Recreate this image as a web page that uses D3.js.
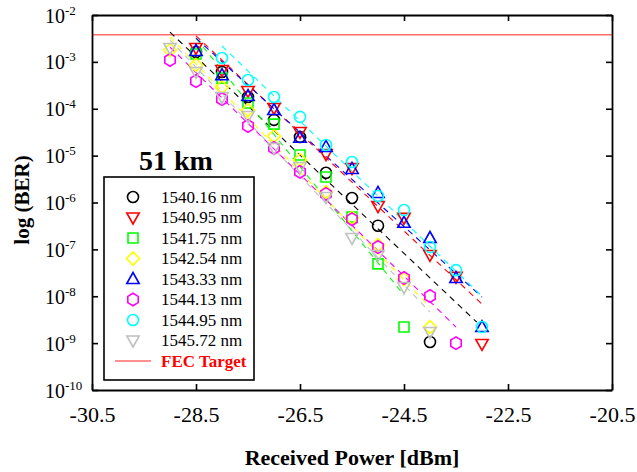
<!DOCTYPE html>
<html>
<head>
<meta charset="utf-8">
<script src="https://cdn.jsdelivr.net/npm/d3@7"></script>
<style>
  body { margin: 0; background: #fff; }
  text { font-family: "Liberation Serif", "Times New Roman", serif; }
</style>
</head>
<body>
<svg id="chart" width="637" height="472"></svg>
<script>
// received power columns (dBm)
const powers = [-29.0, -28.5, -28.0, -27.5, -27.0, -26.5, -26.0, -25.5, -25.0, -24.5, -24.0, -23.5, -23.0];

// BER, null = no point
const ber1540_16 = [null, 1.62e-3, 6.1e-4, 1.78e-4, 5.8e-5, 2.5e-5, 4.3e-6, 1.25e-6, 3.2e-7, null, 1.06e-9, null, null];
const ber1540_95 = [null, 1.98e-3, 6.7e-4, 2.4e-4, 1.04e-4, 3.2e-5, 1.08e-5, 5.4e-6, 8.4e-7, 4.7e-7, 7.6e-8, 2.6e-8, 9.6e-10];
const ber1541_75 = [null, 1.47e-3, 4.5e-4, 1.33e-4, 4.7e-5, 1.03e-5, 3.5e-6, 4.9e-7, 4.9e-8, 2.2e-9, null, null, null];
const ber1542_54 = [1.79e-3, 8.6e-4, 2.9e-4, 9.4e-5, 2.6e-5, 8.1e-6, 1.67e-6, 4.7e-7, 1.24e-7, 2.33e-8, 2.2e-9, null, null];
const ber1543_33 = [null, 1.71e-3, 5.2e-4, 1.87e-4, 9.4e-5, 2.4e-5, 1.53e-5, 5.2e-6, 1.6e-6, 3.7e-7, 1.75e-7, 2.45e-8, 2.2e-9];
const ber1544_13 = [1.10e-3, 3.9e-4, 1.61e-4, 4.3e-5, 1.46e-5, 4.5e-6, 1.52e-6, 4.4e-7, 1.12e-7, 2.45e-8, 1.01e-8, 1.0e-9, null];
const ber1544_95 = [null, null, 1.21e-3, 4.1e-4, 1.78e-4, 6.7e-5, 1.69e-5, 7.3e-6, 1.38e-6, 6.9e-7, 1.12e-7, 3.6e-8, 2.2e-9];
const ber1545_72 = [1.98e-3, 6.1e-4, 1.78e-4, 7.0e-5, 1.46e-5, 5.7e-6, 1.31e-6, 1.75e-7, 7.6e-8, 1.57e-8, 1.73e-9, null, null];

// dashed fit lines: [power, ber] at each end
const fit1540_16 = [[-29.0, 4.3e-3], [-23.1, 2.8e-9]];
const fit1540_95 = [[-28.5, 3.6e-3], [-23.0, 6.8e-9]];
const fit1541_75 = [[-28.5, 3.2e-3], [-24.5, 1.06e-8]];
const fit1542_54 = [[-29.0, 3.4e-3], [-24.0, 5.9e-9]];
const fit1543_33 = [[-28.5, 3.2e-3], [-23.0, 9.6e-9]];
const fit1544_13 = [[-29.0, 2.07e-3], [-23.5, 2.2e-9]];
const fit1544_95 = [[-28.0, 2.18e-3], [-23.0, 1.0e-8]];
const fit1545_72 = [[-29.0, 2.93e-3], [-24.0, 4.6e-9]];

const seriesNames = ["1540.16 nm", "1540.95 nm", "1541.75 nm", "1542.54 nm", "1543.33 nm", "1544.13 nm", "1544.95 nm", "1545.72 nm"];
const fecTarget = 3.8e-3;

const xTicks = [-30.5, -28.5, -26.5, -24.5, -22.5, -20.5];
const yTicks = [1e-2, 1e-3, 1e-4, 1e-5, 1e-6, 1e-7, 1e-8, 1e-9, 1e-10];

// styles
const colors = ["#000000", "#ff0000", "#00ff00", "#ffff00", "#0000ff", "#ff00ff", "#00ffff", "#c0c0c0"];
const shapes = ["circle", "tridown", "square", "diamond", "triup", "hexagon", "circle", "tridown"];

const allBer = [ber1540_16, ber1540_95, ber1541_75, ber1542_54, ber1543_33, ber1544_13, ber1544_95, ber1545_72];
const allFit = [fit1540_16, fit1540_95, fit1541_75, fit1542_54, fit1543_33, fit1544_13, fit1544_95, fit1545_72];

const svg = d3.select("#chart");
const margin = { top: 15, right: 25, bottom: 82, left: 92 };
const width = 637, height = 472;

const x = d3.scaleLinear().domain([-30.5, -20.5]).range([margin.left, width - margin.right]);
const y = d3.scaleLog().domain([1e-10, 1e-2]).range([height - margin.bottom, margin.top]);

function markerPath(shape) {
	if (shape === "circle") return "M5.5,0A5.5,5.5 0 1,1 -5.5,0A5.5,5.5 0 1,1 5.5,0Z";
	if (shape === "square") return "M-5,-5L5,-5L5,5L-5,5Z";
	if (shape === "diamond") return "M0,-6.5L6.5,0L0,6.5L-6.5,0Z";
	if (shape === "triup") return "M0,-6.5L6.2,4.5L-6.2,4.5Z";
	if (shape === "tridown") return "M0,6.5L6.2,-4.5L-6.2,-4.5Z";
	if (shape === "hexagon") {
		let pts = d3.range(6).map(function (i) {
			let a = Math.PI / 3 * i - Math.PI / 2;
			return [6 * Math.cos(a), 6.3 * Math.sin(a)];
		});
		return "M" + pts.join("L") + "Z";
	}
}

// fec line
svg.append("line")
	.attr("x1", x(-30.5)).attr("x2", x(-20.5))
	.attr("y1", y(fecTarget)).attr("y2", y(fecTarget))
	.style("stroke", "#ff6b6b")
	.style("stroke-width", 1.6);

// fit lines
let fits = svg.append("g").attr("id", "fits");
allFit.forEach(function (f, i) {
	fits.append("line")
		.attr("x1", x(f[0][0])).attr("y1", y(f[0][1]))
		.attr("x2", x(f[1][0])).attr("y2", y(f[1][1]))
		.style("stroke", colors[i])
		.style("stroke-width", 1.1)
		.style("stroke-dasharray", "6,5");
});

// points
let points = svg.append("g").attr("id", "points");
allBer.forEach(function (vals, i) {
	let data = powers.map((p, j) => [p, vals[j]]).filter(d => d[1] !== null);
	points.selectAll(null)
		.data(data)
		.enter()
		.append("path")
		.attr("d", markerPath(shapes[i]))
		.attr("transform", d => `translate(${x(d[0])},${y(d[1])})`)
		.style("fill", "none")
		.style("stroke", colors[i])
		.style("stroke-width", 1.6);
});

// axes, ticks pointing inward
const bottom = svg.append("g")
	.attr("transform", `translate(0,${height - margin.bottom})`)
	.call(d3.axisBottom(x).tickValues(xTicks).tickSizeInner(-6).tickSizeOuter(0).tickPadding(16).tickFormat(d => d.toFixed(1)));
svg.append("g")
	.attr("transform", `translate(0,${margin.top})`)
	.call(d3.axisTop(x).tickValues(xTicks).tickSizeInner(-6).tickSizeOuter(0).tickFormat(""));
const left = svg.append("g")
	.attr("transform", `translate(${margin.left},0)`)
	.call(d3.axisLeft(y).tickValues(yTicks).tickSizeInner(-6).tickSizeOuter(0).tickFormat(""));
svg.append("g")
	.attr("transform", `translate(${width - margin.right},0)`)
	.call(d3.axisRight(y).tickValues(yTicks).tickSizeInner(-6).tickSizeOuter(0).tickFormat(""));

svg.selectAll(".domain").style("stroke", "#000").style("stroke-width", 1.8);
svg.selectAll(".tick line").style("stroke", "#000").style("stroke-width", 1.6);

bottom.selectAll(".tick text")
	.style("font-family", "Liberation Serif")
	.style("font-size", "22px")
	.style("fill", "#000");

left.selectAll(".tick").each(function (d) {
	let t = d3.select(this).append("text")
		.attr("x", 45 - margin.left)
		.attr("y", 7)
		.attr("text-anchor", "start")
		.style("font-family", "Liberation Serif")
		.style("font-size", "20px")
		.style("fill", "#000");
	t.append("tspan").text("10");
	t.append("tspan")
		.attr("dy", -8)
		.style("font-size", "13px")
		.text("-" + Math.round(-Math.log10(d)));
});

// axis titles
svg.append("text")
	.attr("x", (margin.left + width - margin.right) / 2)
	.attr("y", 465)
	.attr("text-anchor", "middle")
	.style("font-size", "22px")
	.style("font-weight", "bold")
	.text("Received Power [dBm]");

svg.append("text")
	.attr("transform", "translate(29,200) rotate(-90)")
	.attr("text-anchor", "middle")
	.style("font-size", "21px")
	.style("font-weight", "bold")
	.text("log (BER)");

svg.append("text")
	.attr("x", 139)
	.attr("y", 170)
	.style("font-size", "28px")
	.style("font-weight", "bold")
	.text("51 km");

// legend
let legend = svg.append("g").attr("id", "legend");
legend.append("rect")
	.attr("x", 104).attr("y", 177)
	.attr("width", 150).attr("height", 203)
	.style("fill", "#fff")
	.style("stroke", "#000")
	.style("stroke-width", 1.6);

seriesNames.forEach(function (name, i) {
	let ly = 197 + i * 20.5;
	legend.append("path")
		.attr("d", markerPath(shapes[i]))
		.attr("transform", `translate(133,${ly})`)
		.style("fill", "none")
		.style("stroke", colors[i])
		.style("stroke-width", 1.6);
	legend.append("text")
		.attr("x", 161)
		.attr("y", ly)
		.attr("dominant-baseline", "central")
		.style("font-size", "17px")
		.text(name);
});

let fy = 197 + 8 * 20.5;
legend.append("line")
	.attr("x1", 115).attr("x2", 151)
	.attr("y1", fy).attr("y2", fy)
	.style("stroke", "#ff6b6b")
	.style("stroke-width", 1.6);
legend.append("text")
	.attr("x", 161)
	.attr("y", fy)
	.attr("dominant-baseline", "central")
	.style("font-size", "17px")
	.style("font-weight", "bold")
	.style("fill", "#ff0000")
	.text("FEC Target");
</script>
</body>
</html>
